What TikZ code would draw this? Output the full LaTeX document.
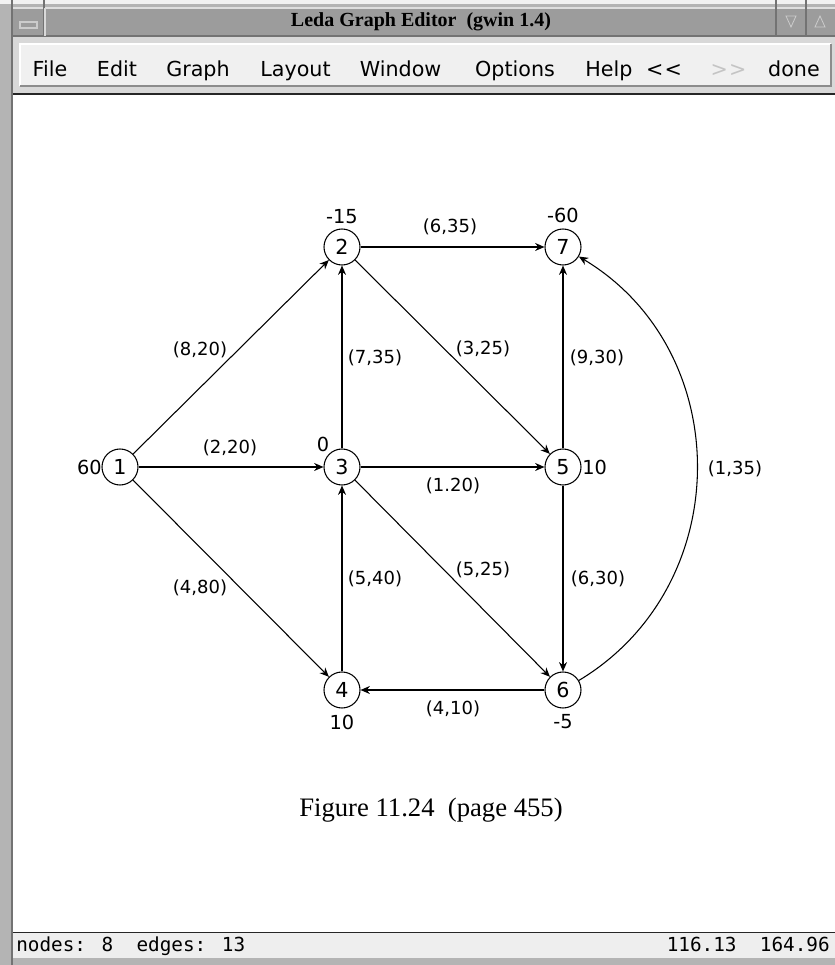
\documentclass[tikz,border=0pt]{standalone}
\usepackage{fontspec}
\setmainfont{Liberation Serif}
\newfontfamily\uisans{DejaVu Sans}
\newfontfamily\uimono{DejaVu Sans Mono}
\usetikzlibrary{arrows.meta}
\definecolor{framegray}{HTML}{B4B4B4}
\definecolor{titlegray}{HTML}{9C9C9C}
\definecolor{menugray}{HTML}{D8D8D8}
\definecolor{statusgray}{HTML}{EEEEEE}
\definecolor{dimtext}{HTML}{C4C4C4}
\begin{document}
\begin{tikzpicture}[x=0.75pt,y=0.75pt,
  vertex/.style={circle,draw,line width=0.8pt,minimum size=27pt,inner sep=0pt,font=\uisans\fontsize{15.5}{15.5}\selectfont},
  supply/.style={font=\uisans\fontsize{14.5}{15}\selectfont,inner sep=0pt},
  elabel/.style={font=\uisans\fontsize{13.5}{14}\selectfont,inner sep=0pt},
  edge/.style={line width=0.8pt,-{Stealth[length=7pt,width=6pt]}},
  menuitem/.style={font=\uisans\fontsize{15.5}{16}\selectfont,inner sep=0pt,anchor=base},
  statustext/.style={font=\uimono\fontsize{14.5}{15}\selectfont,inner sep=0pt}
]
\useasboundingbox (0,0) rectangle (835,965);
% window frame
\fill[framegray] (0,0) rectangle (835,965);
\fill[white!90!gray] (0,961) rectangle (835,965);
% title bar
\fill[titlegray] (13,929) rectangle (835,957);
\draw[white!75!gray,line width=0.8pt] (13,957) -- (835,957);
\draw[black!55,line width=0.8pt] (13,929) -- (835,929);
\draw[black!55,line width=0.8pt] (44,929) -- (44,965);
\draw[white!70!gray,line width=0.8pt] (45,929) -- (45,957);
\draw[white!60!gray,line width=0.8pt] (20,937) rectangle (37,943);
\draw[black!55,line width=0.8pt] (776,929) -- (776,965);
\draw[black!55,line width=0.8pt] (806,929) -- (806,965);
\draw[white!60!gray,line width=0.6pt] (786,949) -- (796,949) -- (791,938) -- cycle;
\draw[white!60!gray,line width=0.6pt] (815,938) -- (825,938) -- (820,949) -- cycle;
\node[font=\bfseries\fontsize{15}{15}\selectfont,inner sep=0pt] (title) at (421,943) {Leda Graph Editor\ \ (gwin 1.4)};
% left frame line
\draw[black!55,line width=0.8pt] (12,0) -- (12,965);
% menu bar
\fill[menugray] (13,871) rectangle (835,928);
\fill[white!88!gray] (20,879) rectangle (831,921);
\draw[white,line width=1pt] (20,879) -- (20,921) -- (831,921);
\draw[black!45,line width=1pt] (20,879) -- (831,879) -- (831,921);
\node[menuitem] (mFile) at (50,888) {File};
\node[menuitem] (mEdit) at (117,888) {Edit};
\node[menuitem] (mGraph) at (198,888) {Graph};
\node[menuitem] (mLayout) at (295.5,888) {Layout};
\node[menuitem] (mWindow) at (400.6,888) {Window};
\node[menuitem] (mOptions) at (515,888) {Options};
\node[menuitem] (mHelp) at (609,888) {Help};
\node[menuitem] (mBack) at (664,888) {<\kern1pt<};
\node[menuitem,text=dimtext] (mFwd) at (728.5,888) {>\kern1pt>};
\node[menuitem] (mDone) at (794,888) {done};
% canvas
\fill[white] (13,33) rectangle (835,870);
\draw[black!85,line width=1.4pt] (13,871) -- (835,871);
% status bar
\fill[statusgray] (13,7) rectangle (835,32);
\draw[black!85,line width=1.4pt] (13,32.5) -- (835,32.5);
\fill[framegray] (13,0) rectangle (835,7);
\node[statustext,anchor=base west] (stL) at (16,13) {nodes: 8\ \ edges: 13};
\node[statustext,anchor=base east] (stR) at (830,13) {116.13\ \ 164.96};
% graph nodes
\node[vertex] (n1) at (120,498) {1};
\node[vertex] (n2) at (342,718) {2};
\node[vertex] (n3) at (342,498) {3};
\node[vertex] (n4) at (342,275) {4};
\node[vertex] (n5) at (563,498) {5};
\node[vertex] (n6) at (563,275) {6};
\node[vertex] (n7) at (563,718) {7};
% supplies
\node[supply,anchor=east] (s1) at (102,498) {60};
\node[supply] (s2) at (342,748) {-15};
\node[supply] (s3) at (323,521) {0};
\node[supply] (s4) at (342,243) {10};
\node[supply,anchor=west] (s5) at (582,498) {10};
\node[supply] (s6) at (563,243) {-5};
\node[supply] (s7) at (563,750) {-60};
% edges
\draw[edge] (n1) -- (n2);
\draw[edge] (n1) -- (n3);
\draw[edge] (n1) -- (n4);
\draw[edge] (n3) -- (n2);
\draw[edge] (n2) -- (n7);
\draw[edge] (n2) -- (n5);
\draw[edge] (n3) -- (n5);
\draw[edge] (n4) -- (n3);
\draw[edge] (n3) -- (n6);
\draw[edge] (n5) -- (n7);
\draw[edge] (n5) -- (n6);
\draw[edge] (n6) -- (n4);
\draw[edge] (n6) to[out=31,in=-31,looseness=1.11] (n7);
% edge labels
\node[elabel] (l12) at (200,615) {(8,20)};
\node[elabel] (l13) at (230,517) {(2,20)};
\node[elabel] (l32) at (375,607) {(7,35)};
\node[elabel] (l27) at (450,738) {(6,35)};
\node[elabel] (l25) at (483,616) {(3,25)};
\node[elabel] (l57) at (597,607) {(9,30)};
\node[elabel] (l35) at (453,479) {(1.20)};
\node[elabel] (l67) at (735,496) {(1,35)};
\node[elabel] (l14) at (200,377) {(4,80)};
\node[elabel] (l43) at (375,386) {(5,40)};
\node[elabel] (l36) at (483,395) {(5,25)};
\node[elabel] (l56) at (598,386) {(6,30)};
\node[elabel] (l64) at (453,256) {(4,10)};
% caption
\node[font=\fontsize{20}{20}\selectfont,inner sep=0pt] (caption) at (431,155) {Figure 11.24\ \ (page 455)};
\end{tikzpicture}
\end{document}
